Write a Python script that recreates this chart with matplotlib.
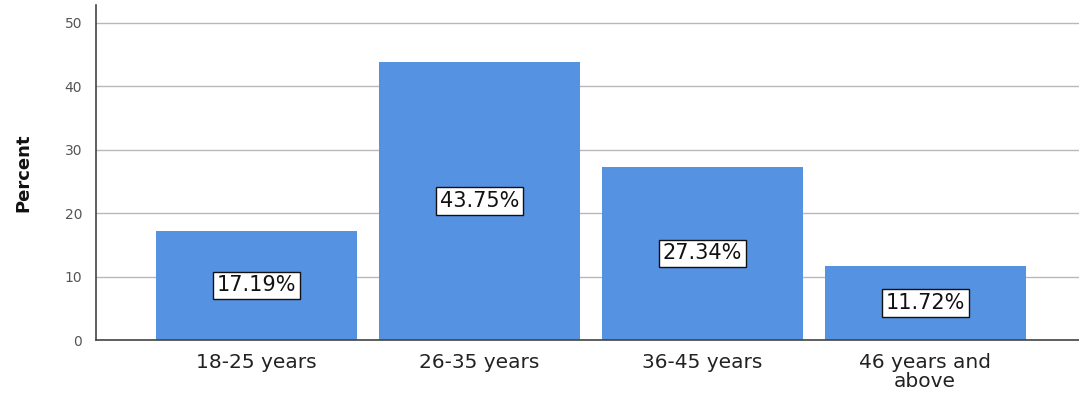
import matplotlib
matplotlib.use("Agg")
import matplotlib.pyplot as plt

categories = ["18-25 years", "26-35 years", "36-45 years", "46 years and\nabove"]
percents = [17.19, 43.75, 27.34, 11.72]
yticks = [0, 10, 20, 30, 40, 50]

fig = plt.figure(figsize=(10.79, 3.96), dpi=100)
ax = fig.add_axes([96/1079, 56/396, 1 - 96/1079, (340-5)/396])

x = list(range(len(categories)))
ax.bar(x, percents, width=0.9, color="#5592e2", zorder=2)

for xi, v in zip(x, percents):
    ax.text(xi, v/2, f"{v:.2f}%", ha="center", va="center", fontsize=15,
            family="DejaVu Sans", color="#111111", zorder=3,
            bbox=dict(boxstyle="square,pad=0.18", facecolor="white",
                      edgecolor="#111111", linewidth=1))

ax.set_xlim(-0.72, 3.69)
ax.set_ylim(0, 52.8)
ax.set_yticks(yticks)
ax.set_yticklabels([str(t) for t in yticks], fontsize=10, color="#555555")
ax.set_xticks(x)
ax.set_xticklabels(categories, fontsize=14.5, family="DejaVu Sans",
                   color="#222222", linespacing=1.05)
ax.tick_params(axis="both", length=0)
ax.tick_params(axis="y", pad=10)
ax.tick_params(axis="x", pad=9)

ax.yaxis.grid(True, color="#b8b8b8", linewidth=1, zorder=0)
ax.set_axisbelow(True)
for s in ["top", "right"]:
    ax.spines[s].set_visible(False)
for s in ["left", "bottom"]:
    ax.spines[s].set_color("#444444")
    ax.spines[s].set_linewidth(1.2)

ax.set_ylabel("Percent", fontsize=13, fontweight="bold", family="DejaVu Sans",
              color="#111111")
ax.yaxis.set_label_coords(-0.065, 0.5)

fig.savefig("out.png", dpi=100)
